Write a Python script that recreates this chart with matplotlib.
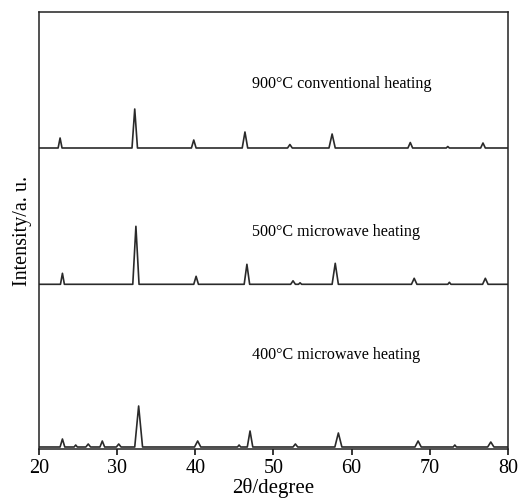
import matplotlib
matplotlib.use("Agg")
import matplotlib.pyplot as plt

plt.rcParams['font.family'] = ['Liberation Serif', 'DejaVu Serif']

# XRD patterns (2theta in degree, intensity in a.u.)
tt_900 = [20.0, 22.45, 22.7, 22.95, 31.9, 32.25, 32.6, 39.5, 39.8, 40.1, 46.0, 46.35, 46.7,
          51.8, 52.1, 52.4, 57.1, 57.5, 57.9, 67.2, 67.5, 67.8, 72.1, 72.3, 72.5,
          76.5, 76.8, 77.1, 80.0]
int_900 = [0, 0, 10, 0, 0, 39, 0, 0, 8, 0, 0, 16, 0,
           0, 3.5, 0, 0, 14, 0, 0, 5.5, 0, 0, 1.5, 0,
           0, 5, 0, 0]

tt_500 = [20.0, 22.75, 23.0, 23.25, 32.0, 32.4, 32.8, 39.8, 40.1, 40.4, 46.25, 46.6, 46.95,
          52.2, 52.5, 52.8, 53.2, 53.4, 53.6, 57.5, 57.9, 58.3, 67.65, 68.0, 68.35,
          72.3, 72.5, 72.7, 76.75, 77.1, 77.45, 80.0]
int_500 = [0, 0, 11, 0, 0, 58, 0, 0, 8, 0, 0, 20, 0,
           0, 3.5, 0, 0, 1.5, 0, 0, 21, 0, 0, 6, 0,
           0, 2, 0, 0, 6, 0, 0]

tt_400 = [20.0, 22.7, 23.0, 23.3, 24.5, 24.7, 24.9, 26.0, 26.3, 26.6, 27.8, 28.1, 28.4,
          29.9, 30.2, 30.5, 32.25, 32.75, 33.25, 39.9, 40.3, 40.7, 45.4, 45.6, 45.8,
          46.65, 47.0, 47.35, 52.5, 52.8, 53.1, 57.85, 58.3, 58.75, 68.1, 68.5, 68.9,
          73.0, 73.2, 73.4, 77.4, 77.8, 78.2, 80.0]
int_400 = [0, 0, 8, 0, 0, 2, 0, 0, 3, 0, 0, 6, 0,
           0, 3, 0, 0, 41, 0, 0, 6, 0, 0, 2, 0,
           0, 16, 0, 0, 3, 0, 0, 14, 0, 0, 6, 0,
           0, 2, 0, 0, 5, 0, 0]

labels = ["900°C conventional heating", "500°C microwave heating", "400°C microwave heating"]

# vertical stacking of the patterns
offsets = [301, 164.7, 2]
label_y = [365, 217, 94]

fig = plt.figure(figsize=(5.19, 4.98), dpi=100)
ax = fig.add_axes([0.0751, 0.0984, 0.9037, 0.8775])

patterns = [(tt_900, int_900), (tt_500, int_500), (tt_400, int_400)]
for (tt, inten), off, lab, ly in zip(patterns, offsets, labels, label_y):
    ax.plot(tt, [v + off for v in inten], color="#2a2a2a", lw=1.2)
    ax.text(47.2, ly, lab, fontsize=11.6, va="center", ha="left")

ax.set_xlim(20, 80)
ax.set_ylim(0, 437)
ax.set_xticks(range(20, 81, 10))
ax.set_yticks([])
ax.tick_params(axis="x", direction="out", length=4, width=1.1, labelsize=14.5, pad=3)
for s in ax.spines.values():
    s.set_linewidth(1.1)
    s.set_color("#222222")

ax.set_xlabel("2θ/degree", fontsize=15, labelpad=0)
ax.set_ylabel("Intensity/a. u.", fontsize=14.5, labelpad=5)

fig.savefig("out.png", dpi=100)
